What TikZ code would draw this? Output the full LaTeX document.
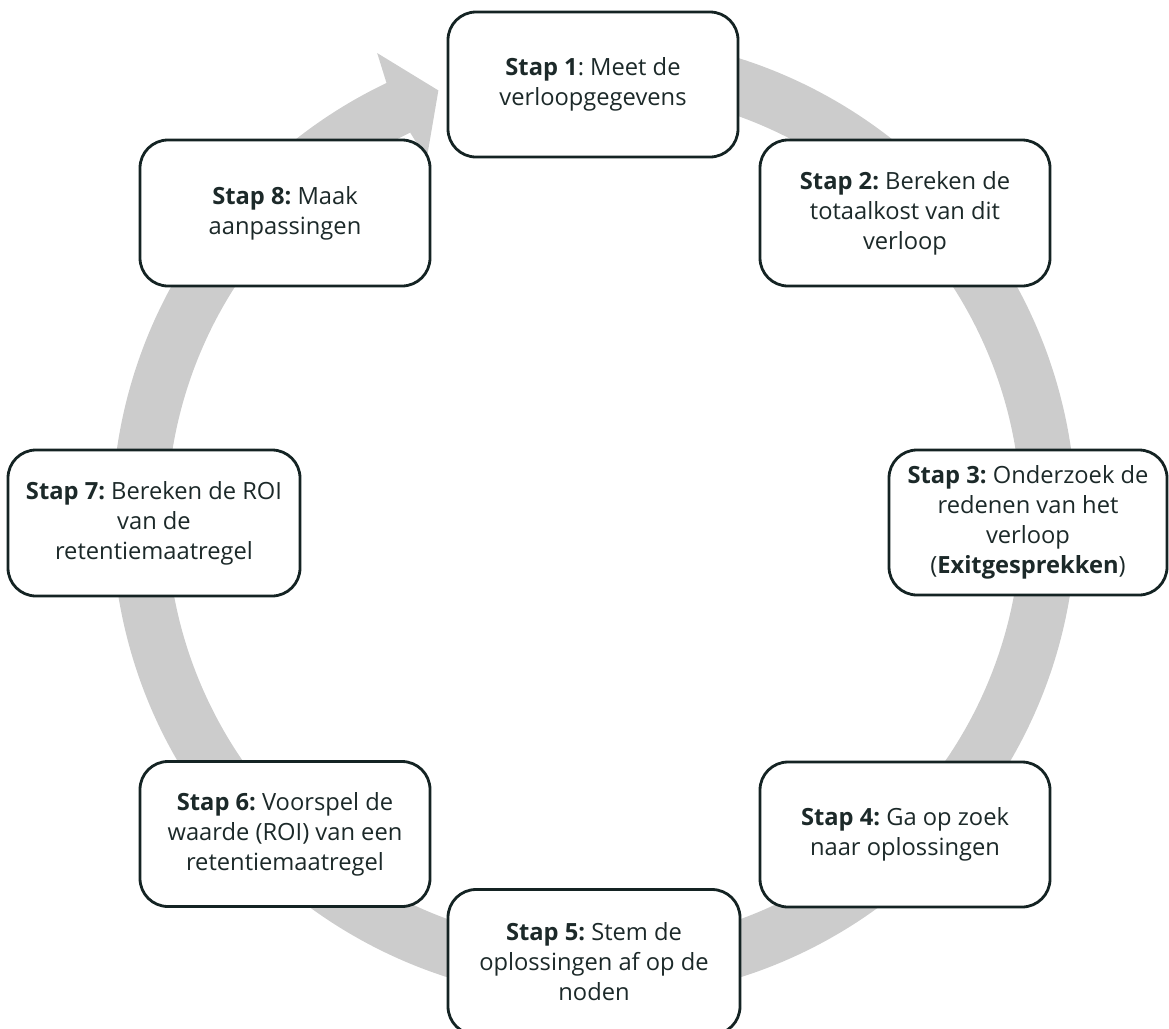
\documentclass[tikz,border=0pt]{standalone}
\usepackage{fontspec}
\setmainfont{Open Sans}
\frenchspacing
\definecolor{ringgray}{HTML}{CCCCCC}
\definecolor{boxline}{HTML}{142323}
\definecolor{txt}{HTML}{1C2929}
\begin{document}
\begin{tikzpicture}[x=1pt,y=-1pt,
  stepbox/.style={draw=boxline, line width=2.8pt, fill=white, rounded corners=28pt,
    minimum width=290pt, minimum height=145pt, align=center, text=txt, inner sep=0pt,
    font=\fontsize{23.7}{30}\selectfont\frenchspacing}]
\useasboundingbox (0,0) rectangle (1169,1028);
% circular arrow
\coordinate (C) at (594,518);
\begin{scope}[shift={(C)}]
\fill[ringgray] (100:482pt) arc[start angle=100, end angle=-244.5, radius=482pt]
  -- (-245:513pt) -- (-250:455pt) -- (-245:396pt) -- (-244.5:427pt)
  arc[start angle=-244.5, end angle=100, radius=427pt] -- cycle;
\end{scope}
% steps
\node[stepbox] (s1) at (593,84.5) {\textbf{Stap 1}: Meet de\\verloopgegevens};
\node[stepbox, minimum height=146pt] (s2) at (905,213) {\textbf{Stap 2:} Bereken de\\totaalkost van dit\\verloop};
\node[stepbox, minimum width=278pt] (s3) at (1028,522.5) {\textbf{Stap 3:} Onderzoek de\\redenen van het\\verloop\\(\textbf{Exitgesprekken})};
\node[stepbox] (s4) at (905,834.5) {\textbf{Stap 4:} Ga op zoek\\naar oplossingen};
\node[stepbox, minimum width=292pt] (s5) at (594,962) {\textbf{Stap 5:} Stem de\\oplossingen af op de\\noden};
\node[stepbox] (s6) at (285,834) {\textbf{Stap 6:} Voorspel de\\waarde (ROI) van een\\retentiemaatregel};
\node[stepbox, minimum width=292pt, minimum height=146pt] (s7) at (154,523) {\textbf{Stap 7:} Bereken de ROI\\van de\\retentiemaatregel};
\node[stepbox, minimum height=146pt] (s8) at (285,213) {\textbf{Stap 8:} Maak\\aanpassingen};
\end{tikzpicture}
\end{document}
